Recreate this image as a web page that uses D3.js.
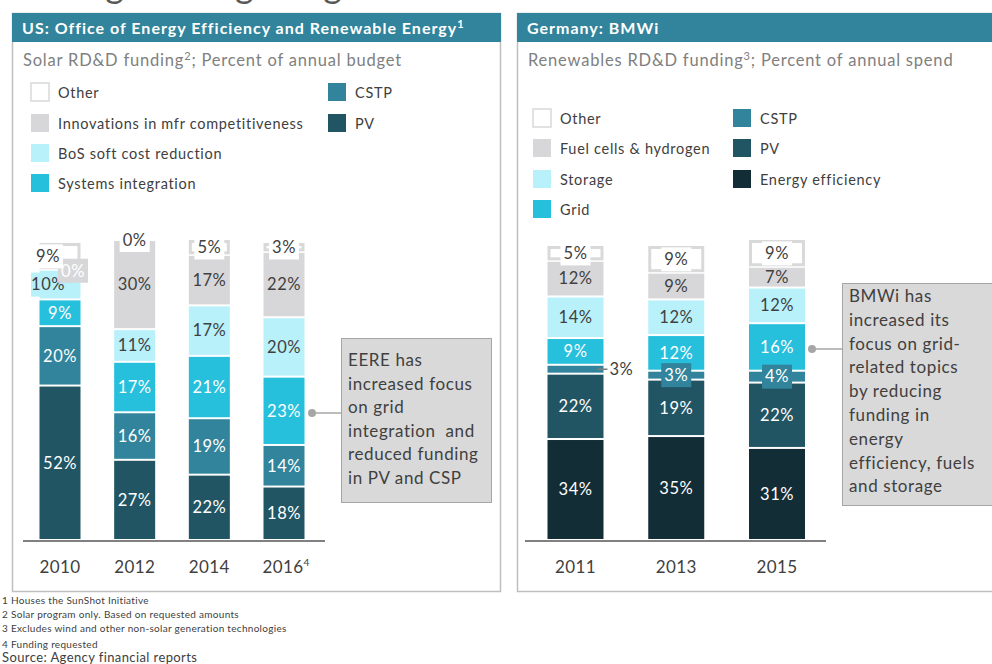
<!DOCTYPE html>
<html>
<head>
<meta charset="utf-8">
<script src="https://cdn.jsdelivr.net/npm/d3@7"></script>
<style>
  body { margin: 0; background: #fff; }
  svg { display: block; font-family: Lato, "Open Sans", sans-serif; }
</style>
</head>
<body>
<svg width="992" height="664"></svg>
<script>
// Two stacked-bar panels: US EERE solar funding vs German BMWi renewables funding.

const width = 992;
const height = 664;

// ---- data ----
const usYears = ["2010", "2012", "2014", "2016"];
const usKeys = ["PV", "CSTP", "Systems integration", "BoS soft cost reduction", "Innovations in mfr competitiveness", "Other"];
const usPV = [52, 27, 22, 18];
const usCSTP = [20, 16, 19, 14];
const usSystems = [9, 17, 21, 23];
const usBoS = [10, 11, 17, 20];
const usInnov = [0, 30, 17, 22];
const usOther = [9, 0, 5, 3];

const deYears = ["2011", "2013", "2015"];
const deKeys = ["Energy efficiency", "PV", "CSTP", "Grid", "Storage", "Fuel cells & hydrogen", "Other"];
const deEfficiency = [34, 35, 31];
const dePV = [22, 19, 22];
const deCSTP = [3, 3, 4];
const deGrid = [9, 12, 16];
const deStorage = [14, 12, 12];
const deFuel = [12, 9, 7];
const deOther = [5, 9, 9];

const usLegendLeft = ["Other", "Innovations in mfr competitiveness", "BoS soft cost reduction", "Systems integration"];
const usLegendRight = ["CSTP", "PV"];
const deLegendLeft = ["Other", "Fuel cells & hydrogen", "Storage", "Grid"];
const deLegendRight = ["CSTP", "PV", "Energy efficiency"];

const usNote = ["EERE has", "increased focus", "on grid", "integration  and", "reduced funding", "in PV and CSP"];
const deNote = ["BMWi has", "increased its", "focus on grid-", "related topics", "by reducing", "funding in", "energy", "efficiency, fuels", "and storage"];

const footnotes = [
  "1 Houses the SunShot Initiative",
  "2 Solar program only. Based on requested amounts",
  "3 Excludes wind and other non-solar generation technologies",
  "4 Funding requested",
];

const colors = {
  "Other": "#ffffff",
  "Innovations in mfr competitiveness": "#d7d7d9",
  "Fuel cells & hydrogen": "#d7d7d9",
  "BoS soft cost reduction": "#b9f1fb",
  "Storage": "#b9f1fb",
  "Systems integration": "#26c0dd",
  "Grid": "#26c0dd",
  "CSTP": "#31849b",
  "PV": "#215564",
  "Energy efficiency": "#132d37",
};
const lightKeys = ["Other", "Innovations in mfr competitiveness", "Fuel cells & hydrogen", "BoS soft cost reduction", "Storage"];

const textDark = "#404040";
const frame = "#bfbfbf";

const svg = d3.select("svg").attr("viewBox", `0 0 ${width} ${height}`);

// cropped page title peeking in at the very top (as in the source slide)
svg.append("text").attr("x", 4).attr("y", -2)
  .attr("font-size", 36).attr("fill", "#595959")
  .text("Shifting funding budgets");

// ---- panel frames ----
const drawFrame = (x, w, title, sup, subtitle, subSup) => {
  svg.append("rect").attr("x", x + 0.5).attr("y", 13.5).attr("width", w).attr("height", 578)
    .attr("fill", "none").attr("stroke", frame).attr("stroke-width", 1.5);
  svg.append("rect").attr("x", x).attr("y", 13).attr("width", w + 1).attr("height", 29)
    .attr("fill", "#31849b");
  const t = svg.append("text").attr("x", x + 10).attr("y", 34)
    .attr("font-size", 16).attr("font-weight", "bold").attr("letter-spacing", 1)
    .attr("fill", "#fff").text(title);
  if (sup) t.append("tspan").attr("font-size", 11).attr("dy", -6).text(sup);
  const s = svg.append("text").attr("x", x + 11).attr("y", 66)
    .attr("font-size", 16.5).attr("letter-spacing", 0.8).attr("fill", "#808080").text(subtitle[0]);
  s.append("tspan").attr("font-size", 11).attr("dy", -6).text(subSup);
  s.append("tspan").attr("dy", 6).text(subtitle[1]);
};

drawFrame(12, 488, "US: Office of Energy Efficiency and Renewable Energy", "1",
  ["Solar RD&D funding", "; Percent of annual budget"], "2");
drawFrame(517, 480, "Germany: BMWi", "",
  ["Renewables RD&D funding", "; Percent of annual spend"], "3");

// ---- legends ----
const drawLegend = (items, x, rowsY) => {
  const g = svg.append("g").selectAll("g").data(items).enter().append("g")
    .attr("transform", (d, i) => `translate(${x},${rowsY[i]})`);
  g.append("rect").attr("width", 18).attr("height", 18)
    .attr("fill", (d) => colors[d])
    .attr("stroke", (d) => (d === "Other" ? "#d9d9d9" : "none"))
    .attr("stroke-width", 1.5);
  g.append("text").attr("x", 27).attr("y", 14.5)
    .attr("font-size", 14.5).attr("letter-spacing", 0.7).attr("fill", textDark).text((d) => d);
};
drawLegend(usLegendLeft, 31, [83, 114, 144, 174]);
drawLegend(usLegendRight, 328, [83, 114]);
drawLegend(deLegendLeft, 533, [109, 139, 170, 200]);
drawLegend(deLegendRight, 733, [109, 139, 170]);

// ---- stacked bars ----
const buildRows = (years, keys, cols) =>
  years.map((yr, i) => {
    const row = { year: yr };
    keys.forEach((k, j) => (row[k] = cols[j][i]));
    return row;
  });

const yScale = d3.scaleLinear().domain([0, 100]).range([540, 243]);

const drawBars = (cfg) => {
  const rows = buildRows(cfg.years, cfg.keys, cfg.cols);
  const series = d3.stack().keys(cfg.keys)(rows);
  const xScale = d3.scalePoint().domain(cfg.years).range(cfg.xRange);
  const bw = cfg.barWidth;

  const layers = svg.append("g").selectAll("g").data(series).enter().append("g");

  layers.selectAll("rect")
    .data((s) => s.map((d) => ({ key: s.key, d: d, year: d.data.year, v: d.data[s.key] })))
    .enter()
    .filter((e) => e.v > 0)
    .append("rect")
    .attr("x", (e) => xScale(e.year) - bw / 2 + (e.key === "Other" ? 1.5 : 0))
    .attr("width", (e) => bw - (e.key === "Other" ? 3 : 0))
    .attr("y", (e) => yScale(e.d[1]) + (e.key === "Other" ? 1.5 : 1))
    .attr("height", (e) => yScale(e.d[0]) - yScale(e.d[1]) - (e.key === "Other" ? 3.5 : 2))
    .attr("fill", (e) => colors[e.key])
    .attr("stroke", (e) => (e.key === "Other" ? "#d9d9d9" : "none"))
    .attr("stroke-width", 3);

  // value labels
  series.forEach((s) => {
    s.forEach((d, i) => {
      const v = d.data[s.key];
      const cx = xScale(d.data.year);
      let lx = cx;
      let ly = (yScale(d[0]) + yScale(d[1])) / 2;
      let fill = lightKeys.includes(s.key) ? textDark : "#fff";
      let bg = null;
      let anchor = "middle";

      if (s.key === "Other") bg = "#fff";
      if (cfg.name === "us" && i === 0 && (s.key === "Other" || s.key === "BoS soft cost reduction")) {
        lx = cx - 12;
        if (s.key === "BoS soft cost reduction") bg = colors[s.key];
      }
      if (v === 0) {
        if (s.key === "Other") {
          ly = yScale(d[1]);
        } else {
          lx = cx + 13;
          ly = yScale(d[0]) + 1;
          bg = colors[s.key];
          fill = "#fff";
        }
      }
      if (s.key === "CSTP" && cfg.name === "de") {
        if (i === 0) {
          svg.append("line").attr("x1", cx + bw / 2 - 6).attr("x2", cx + bw / 2 + 4)
            .attr("y1", ly).attr("y2", ly).attr("stroke", "#7f7f7f").attr("stroke-width", 1.5);
          lx = cx + bw / 2 + 6;
          anchor = "start";
          fill = textDark;
        } else {
          bg = colors[s.key];
        }
      }
      if (bg) {
        const bgW = String(v).length > 1 ? 34 : 30;
        svg.append("rect").attr("x", lx - bgW / 2).attr("y", ly - 12)
          .attr("width", bgW).attr("height", 24).attr("fill", bg);
      }
      svg.append("text").attr("x", lx).attr("y", ly).attr("dy", "0.35em")
        .attr("text-anchor", anchor).attr("font-size", 16.5).attr("letter-spacing", 0.5)
        .attr("fill", fill)
        .text(v + "%");
    });
  });

  // baseline + year labels
  svg.append("line").attr("x1", cfg.axisRange[0]).attr("x2", cfg.axisRange[1])
    .attr("y1", 541).attr("y2", 541).attr("stroke", "#808080").attr("stroke-width", 2);
  const yl = svg.append("g").selectAll("text").data(cfg.years).enter().append("text")
    .attr("x", (d) => xScale(d)).attr("y", 573).attr("text-anchor", "middle")
    .attr("font-size", 17).attr("letter-spacing", 0.4).attr("fill", textDark).text((d) => d);
  if (cfg.lastSup) {
    yl.filter((d, i) => i === cfg.years.length - 1)
      .attr("dx", 2)
      .append("tspan").attr("font-size", 10).attr("dy", -7).text(cfg.lastSup);
  }
};

drawBars({
  name: "us", years: usYears, keys: usKeys,
  cols: [usPV, usCSTP, usSystems, usBoS, usInnov, usOther],
  xRange: [60, 284], barWidth: 41, axisRange: [23, 325], lastSup: "4",
});
drawBars({
  name: "de", years: deYears, keys: deKeys,
  cols: [deEfficiency, dePV, deCSTP, deGrid, deStorage, deFuel, deOther],
  xRange: [575.5, 777], barWidth: 56, axisRange: [525, 826],
});

// ---- callouts ----
const drawNote = (lines, box, dotX, lineY, lineStep) => {
  svg.append("line").attr("x1", dotX).attr("x2", box.x).attr("y1", lineY).attr("y2", lineY)
    .attr("stroke", "#a6a6a6").attr("stroke-width", 1.5);
  svg.append("circle").attr("cx", dotX + 2).attr("cy", lineY).attr("r", 4).attr("fill", "#a6a6a6");
  svg.append("rect").attr("x", box.x + 0.5).attr("y", box.y + 0.5).attr("width", box.w).attr("height", box.h)
    .attr("fill", "#d9d9d9").attr("stroke", "#a6a6a6").attr("stroke-width", 1);
  svg.append("g").selectAll("text").data(lines).enter().append("text")
    .attr("x", box.x + 7).attr("y", (d, i) => box.firstY + i * lineStep)
    .attr("font-size", 17).attr("letter-spacing", 0.6).attr("fill", textDark)
    .attr("xml:space", "preserve")
    .text((d) => d);
};
drawNote(usNote, { x: 341, y: 338, w: 150, h: 164, firstY: 366 }, 310, 413, 23.5);
drawNote(deNote, { x: 842, y: 283, w: 152, h: 222, firstY: 302 }, 810, 349, 23.8);

// ---- footnotes ----
svg.append("g").selectAll("text").data(footnotes).enter().append("text")
  .attr("x", 2).attr("y", (d, i) => 604 + i * 14 + (i === 3 ? 2 : 0))
  .attr("font-size", 10).attr("letter-spacing", 0.3).attr("fill", textDark).text((d) => d);
svg.append("text").attr("x", 2).attr("y", 662).attr("font-size", 13).attr("letter-spacing", 0.4)
  .attr("fill", textDark)
  .text("Source: Agency financial reports");
</script>
</body>
</html>
